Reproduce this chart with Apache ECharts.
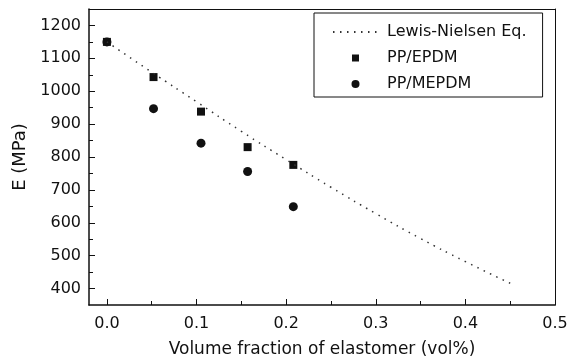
<!DOCTYPE html>
<html>
<head>
<meta charset="utf-8">
<script src="https://cdn.jsdelivr.net/npm/echarts@6/dist/echarts.min.js"></script>
<style>
  html, body { margin: 0; padding: 0; background: #fff; }
  #chart { width: 570px; height: 359px; }
</style>
</head>
<body>
<div id="chart"></div>
<script>
// values
var volFraction = [0.0, 0.052, 0.105, 0.157, 0.208];
var ppEpdm = [1150, 1043, 938, 830, 776];
var ppMepdm = [1150, 947, 842, 756, 649];

var lewisX = [0.0, 0.05, 0.1, 0.15, 0.2, 0.25, 0.3, 0.35, 0.4, 0.45];
var lewisY = [1150, 1058, 968, 878, 792, 708, 628, 552, 482, 416];

var xMajor = [0.0, 0.1, 0.2, 0.3, 0.4, 0.5];
var xMinor = [0.05, 0.15, 0.25, 0.35, 0.45];
var yMajor = [400, 500, 600, 700, 800, 900, 1000, 1100, 1200];
var yMinor = [450, 550, 650, 750, 850, 950, 1050, 1150];

var pairs = function(xs, ys) {
    return xs.map(function(x, i) { return [x, ys[i]]; });
};

var chart = echarts.init(document.getElementById('chart'));
var font = 'DejaVu Sans, sans-serif';
var ink = '#111';

// plain frame axis for the top/right edges
var frameAxis = function(pos, min, max) {
    return {
        type: 'value', min: min, max: max, position: pos,
        axisLine: { show: true, onZero: false, lineStyle: { color: ink, width: 1 } },
        axisTick: { show: false },
        axisLabel: { show: false },
        splitLine: { show: false }
    };
};

var option = {
    animation: false,
    backgroundColor: '#fff',
    textStyle: { fontFamily: font },
    grid: { left: 89, right: 15, top: 9, bottom: 54, outerBoundsMode: 'none', containLabel: false },
    legend: {
        orient: 'vertical',
        left: 314, top: 13,
        padding: [11, 16, 5, 18],
        itemWidth: 45, itemHeight: 8, itemGap: 10,
        borderColor: ink, borderWidth: 1,
        textStyle: { fontSize: 16, color: ink, fontFamily: font, lineHeight: 16, padding: [0, 0, 0, 4] },
        data: [
            { name: 'Lewis-Nielsen Eq.', itemStyle: { opacity: 0 } },
            { name: 'PP/EPDM', icon: 'path://M0,0M45,8M19,0.5h7v7h-7z' },
            'PP/MEPDM'
        ]
    },
    xAxis: [{
        type: 'value', min: -0.02, max: 0.5,
        name: 'Volume fraction of elastomer (vol%)',
        nameLocation: 'middle', nameGap: 36,
        nameTextStyle: { fontSize: 17, color: ink, fontFamily: font },
        axisLine: { onZero: false, lineStyle: { color: ink, width: 1.5 } },
        axisTick: { show: true, inside: true, length: 6, customValues: xMajor, lineStyle: { color: ink, width: 1 } },
        axisLabel: { customValues: xMajor, margin: 11, fontSize: 16, color: ink, fontFamily: font,
            formatter: function(v) { return v.toFixed(1); } },
        splitLine: { show: false }
    }, {
        type: 'value', min: -0.02, max: 0.5, position: 'bottom',
        axisLine: { show: false, onZero: false },
        axisTick: { show: true, inside: true, length: 4, customValues: xMinor, lineStyle: { color: ink } },
        axisLabel: { show: false },
        splitLine: { show: false }
    }, frameAxis('top', -0.02, 0.5)],
    yAxis: [{
        type: 'value', min: 350, max: 1250,
        name: 'E (MPa)',
        nameLocation: 'middle', nameGap: 49,
        nameTextStyle: { fontSize: 18, color: ink, fontFamily: font },
        axisLine: { show: true, onZero: false, lineStyle: { color: ink, width: 1.5 } },
        axisTick: { show: true, inside: true, length: 6, customValues: yMajor, lineStyle: { color: ink, width: 1 } },
        axisLabel: { customValues: yMajor, margin: 8, fontSize: 16, color: ink, fontFamily: font,
            formatter: function(v) { return String(v); } },
        splitLine: { show: false }
    }, {
        type: 'value', min: 350, max: 1250, position: 'left',
        axisLine: { show: false, onZero: false },
        axisTick: { show: true, inside: true, length: 4, customValues: yMinor, lineStyle: { color: ink } },
        axisLabel: { show: false },
        splitLine: { show: false }
    }, frameAxis('right', 350, 1250)],
    series: [{
        name: 'Lewis-Nielsen Eq.',
        type: 'line',
        data: pairs(lewisX, lewisY),
        smooth: true,
        symbol: 'none',
        itemStyle: { color: '#333' },
        lineStyle: { color: '#333', width: 1.5, type: [1.5, 5.5] }
    }, {
        name: 'PP/EPDM',
        type: 'scatter',
        data: pairs(volFraction, ppEpdm),
        symbol: 'rect',
        symbolSize: 8,
        itemStyle: { color: ink, opacity: 1 }
    }, {
        name: 'PP/MEPDM',
        type: 'scatter',
        data: pairs(volFraction, ppMepdm),
        symbol: 'circle',
        symbolSize: 9,
        itemStyle: { color: ink, opacity: 1 }
    }]
};

chart.setOption(option);
</script>
</body>
</html>
